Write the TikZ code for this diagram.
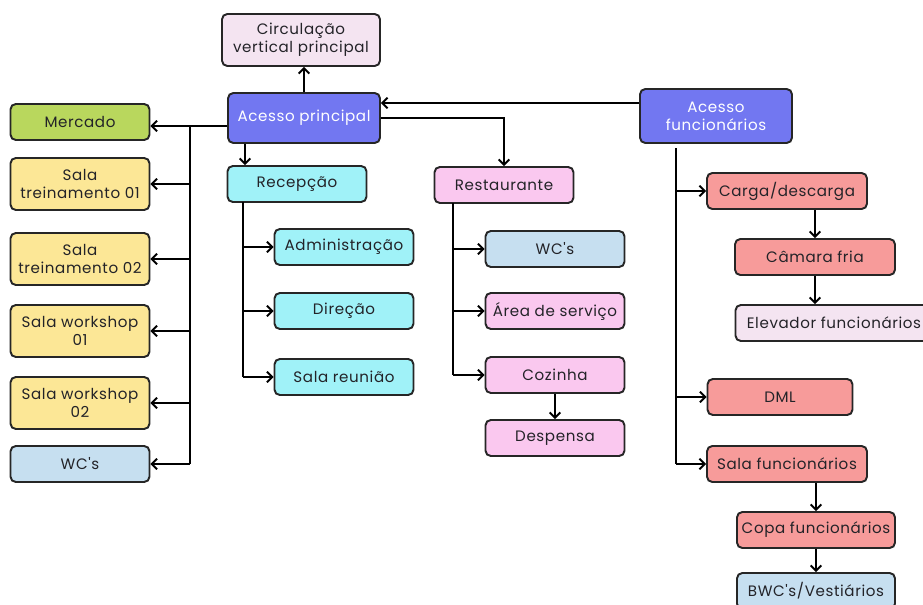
\documentclass[tikz,border=0pt]{standalone}
\usepackage{fontspec}
\setmainfont{Poppins}[LetterSpace=4, Ligatures=TeXOff]
\usetikzlibrary{arrows.meta}
\definecolor{acesso}{HTML}{7277F1}
\definecolor{verde}{HTML}{B9D75D}
\definecolor{amarelo}{HTML}{FCE796}
\definecolor{azulclaro}{HTML}{C6DFF0}
\definecolor{ciano}{HTML}{A0F2F8}
\definecolor{rosa}{HTML}{FAC8EF}
\definecolor{salmao}{HTML}{F79B9A}
\definecolor{lavanda}{HTML}{F4E4F1}
\definecolor{texto}{HTML}{232328}

\begin{document}
\begin{tikzpicture}[x=0.02cm, y=-0.02cm,
	box/.style={draw=black!85, line width=1.1pt, rounded corners=3pt,
		minimum width=2.78cm, minimum height=0.72cm, inner sep=1pt,
		align=center, text=texto, font=\fontsize{8.6}{10.4}\selectfont},
	tall/.style={minimum height=1.04cm},
	main/.style={box, fill=acesso, text=white, minimum width=3.04cm},
	arr/.style={-{Straight Barb[length=3pt,width=6pt]}, line width=1.1pt},
	bus/.style={line width=1.1pt}]

	\useasboundingbox (0,0) rectangle (923,605);

	\node[box, tall, fill=lavanda, minimum width=3.16cm] (circ) at (301,40) {Circulação\\vertical principal};
	\node[main, minimum height=1cm] (acp) at (304,118) {Acesso principal};
	\node[main, tall, minimum height=1.08cm] (acf) at (716,116) {Acesso\\funcionários};

	\node[box, fill=verde] (merc) at (80,122) {Mercado};
	\node[box, tall, fill=amarelo] (trein1) at (80,184) {Sala\\treinamento 01};
	\node[box, tall, fill=amarelo] (trein2) at (80,259) {Sala\\treinamento 02};
	\node[box, tall, fill=amarelo] (work1) at (80,331) {Sala workshop\\01};
	\node[box, tall, fill=amarelo] (work2) at (80,403) {Sala workshop\\02};
	\node[box, fill=azulclaro] (wcesq) at (80,464) {WC's};

	\node[box, fill=ciano] (recep) at (297,184) {Recepção};
	\node[box, fill=ciano] (adm) at (344,247) {Administração};
	\node[box, fill=ciano] (dir) at (344,311) {Direção};
	\node[box, fill=ciano] (reun) at (344,377) {Sala reunião};

	\node[box, fill=rosa] (rest) at (504,185) {Restaurante};
	\node[box, fill=azulclaro] (wcmeio) at (555,249) {WC's};
	\node[box, fill=rosa] (serv) at (555,311) {Área de serviço};
	\node[box, fill=rosa] (coz) at (555,375) {Cozinha};
	\node[box, fill=rosa] (desp) at (555,438) {Despensa};

	\node[box, fill=salmao, minimum width=3.2cm] (carga) at (787,191) {Carga/descarga};
	\node[box, fill=salmao, minimum width=3.2cm] (camara) at (815,257) {Câmara fria};
	\node[box, fill=lavanda, minimum width=3.94cm] (elev) at (834,323) {Elevador funcionários};
	\node[box, fill=salmao, minimum width=2.9cm] (dml) at (780,397) {DML};
	\node[box, fill=salmao, minimum width=3.2cm] (salaf) at (787,464) {Sala funcionários};
	\node[box, fill=salmao, minimum width=3.16cm] (copa) at (816,530) {Copa funcionários};
	\node[box, fill=azulclaro, minimum width=3.16cm] (bwc) at (816,591) {BWC's/Vestiários};

	\coordinate (busL) at (190,126);
	\coordinate (busR) at (243,202);
	\coordinate (busM) at (453,203);
	\coordinate (busF) at (676,148);

	\draw[arr] (acp.north) -- (acp.north |- circ.south);
	\draw[arr] (acf.west |- 0,103) -- (acp.east |- 0,103);
	\draw[arr] (acp.east) -| (rest.north);
	\draw[arr] (acp.south -| 245,0) -- (recep.north -| 245,0);

	\draw[arr] (acp.west |- busL) -- (merc.east |- busL);
	\draw[bus] (busL) -- (busL |- wcesq);
	\foreach \n in {trein1, trein2, work1, work2, wcesq} {
		\draw[arr] (busL |- \n) -- (\n.east);
	}

	\draw[bus] (busR) -- (busR |- reun);
	\foreach \n in {adm, dir, reun} {
		\draw[arr] (busR |- \n) -- (\n.west);
	}

	\draw[bus] (busM) -- (busM |- coz);
	\foreach \n in {wcmeio, serv, coz} {
		\draw[arr] (busM |- \n) -- (\n.west);
	}
	\draw[arr] (coz) -- (desp);

	\draw[bus] (busF) -- (busF |- salaf);
	\foreach \n in {carga, dml, salaf} {
		\draw[arr] (busF |- \n) -- (\n.west);
	}
	\draw[arr] (camara.north |- carga.south) -- (camara.north);
	\draw[arr] (camara.south) -- (camara.south |- elev.north);
	\draw[arr] (copa.north |- salaf.south) -- (copa.north);
	\draw[arr] (copa) -- (bwc);
\end{tikzpicture}
\end{document}
